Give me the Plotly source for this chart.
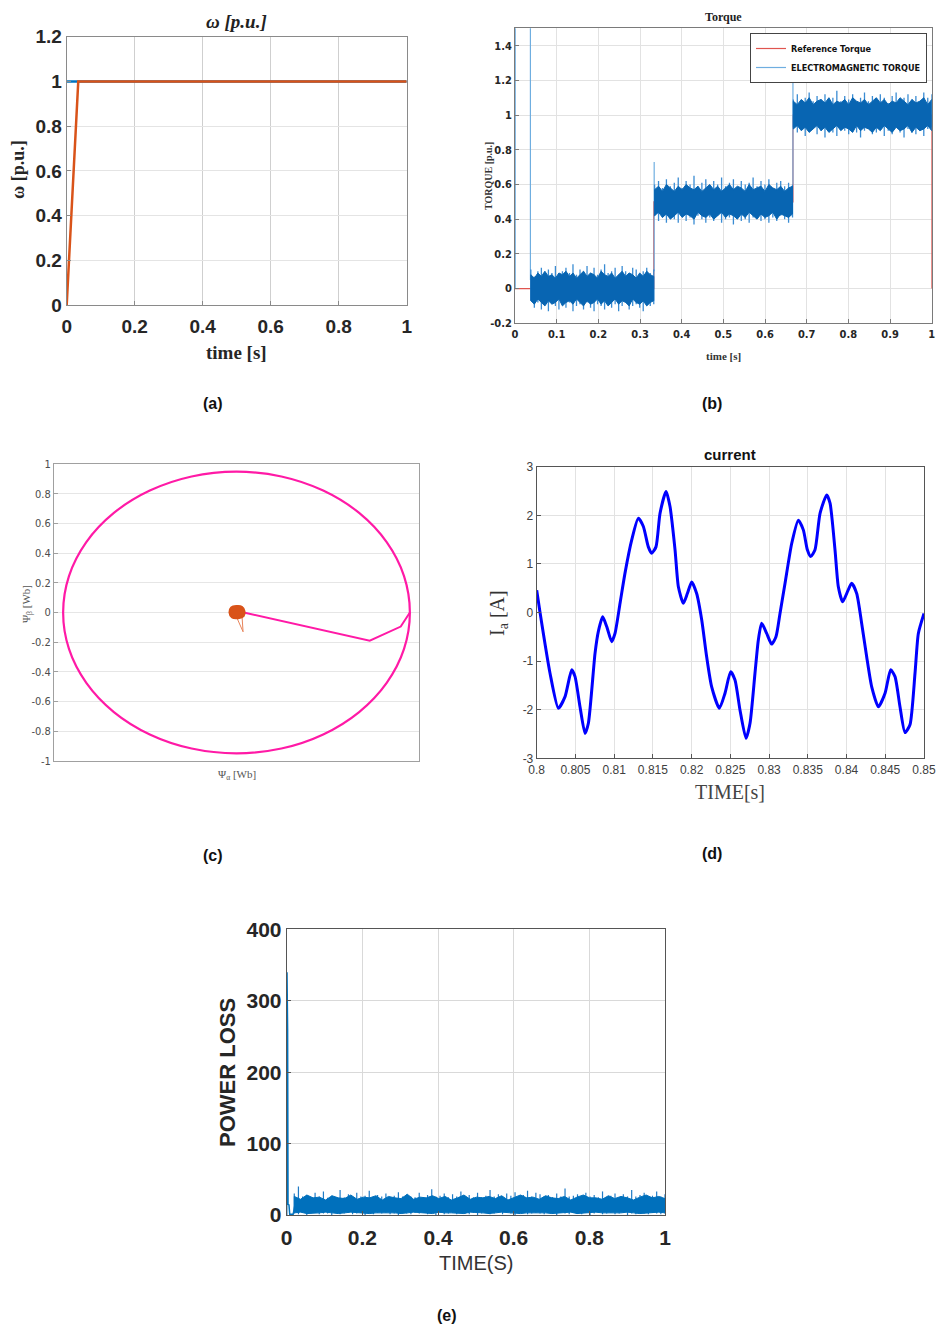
import plotly.graph_objects as go
import numpy as np

W, H = 937, 1328

# ---------------- data ----------------
# (a) speed
a_ref_t = [0.0, 1.0]
a_ref_w = [1.0, 1.0]
a_spd_t = [0.0, 0.034, 1.0]
a_spd_w = [0.0, 1.0, 1.0]
a_ticks = [0, 0.2, 0.4, 0.6, 0.8, 1]
a_yticks = [0, 0.2, 0.4, 0.6, 0.8, 1, 1.2]

# (b) torque
b_ref_t = [0.0, 0.333, 0.333, 0.667, 0.667, 1.0, 1.0]
b_ref_T = [0.0, 0.0, 0.5, 0.5, 1.0, 1.0, 0.0]
b_em_t = [0.0005, 0.0005, 0.037, 0.037, None, 0.334, 0.334, None, 0.667, 0.667]
b_em_T = [0.0, 3.0, 3.0, 0.05, None, 0.1, 0.73, None, 0.6, 1.27]
b_seg = [(0.038, 0.333), (0.335, 0.666), (0.668, 1.0)]
# spike envelopes
s1_hi = [0.11,0.07,0.10,0.12,0.08,0.11,0.09,0.13,0.08,0.10,0.12,0.09,0.14,0.08,0.11,0.10,0.13,0.09,
         0.12,0.08,0.11,0.14,0.09,0.10,0.12,0.08,0.13,0.10,0.09,0.12,0.11,0.08,0.10,0.12,0.09,0.11]
s1_lo = [-0.07,-0.11,-0.08,-0.12,-0.09,-0.13,-0.08,-0.10,-0.12,-0.09,-0.11,-0.08,-0.13,-0.10,-0.09,-0.12,-0.08,-0.11,
         -0.13,-0.09,-0.10,-0.12,-0.08,-0.11,-0.09,-0.13,-0.10,-0.08,-0.12,-0.10,-0.09,-0.11,-0.13,-0.08,-0.10,-0.09]
s2_hi = [0.60,0.62,0.58,0.63,0.59,0.61,0.64,0.58,0.62,0.60,0.65,0.59,0.61,0.63,0.58,0.62,0.60,0.64,
         0.59,0.61,0.63,0.58,0.62,0.60,0.61,0.64,0.59,0.62,0.60,0.63,0.58,0.61,0.62,0.59,0.61,0.60]
s2_lo = [0.42,0.39,0.41,0.38,0.43,0.40,0.38,0.42,0.39,0.41,0.37,0.42,0.40,0.38,0.41,0.39,0.42,0.38,
         0.40,0.41,0.37,0.42,0.39,0.40,0.38,0.41,0.42,0.39,0.40,0.38,0.41,0.39,0.42,0.40,0.38,0.41]
s3_hi = [1.09,1.12,1.07,1.10,1.13,1.08,1.11,1.09,1.12,1.07,1.10,1.14,1.08,1.11,1.09,1.12,1.07,1.10,
         1.13,1.08,1.11,1.09,1.12,1.10,1.07,1.11,1.13,1.08,1.10,1.12,1.09,1.11,1.08,1.13,1.10,1.12]
s3_lo = [0.93,0.90,0.92,0.88,0.91,0.93,0.89,0.91,0.87,0.92,0.90,0.88,0.93,0.91,0.89,0.92,0.90,0.87,
         0.91,0.93,0.89,0.90,0.92,0.88,0.91,0.89,0.93,0.90,0.87,0.92,0.90,0.89,0.91,0.88,0.92,0.93]
# dense core envelopes
c1_hi = [0.08,0.06,0.09,0.07,0.10,0.07,0.08,0.06,0.09,0.08,0.10,0.07,0.09,0.06,0.08,0.10,0.07,0.09,
         0.08,0.06,0.10,0.08,0.07,0.09,0.06,0.08,0.10,0.07,0.09,0.08,0.06,0.09,0.07,0.10,0.08,0.07]
c1_lo = [-0.07,-0.09,-0.06,-0.08,-0.10,-0.07,-0.09,-0.08,-0.06,-0.10,-0.08,-0.07,-0.09,-0.06,-0.08,-0.10,-0.07,-0.09,
         -0.08,-0.06,-0.09,-0.07,-0.10,-0.08,-0.06,-0.09,-0.07,-0.08,-0.10,-0.06,-0.08,-0.09,-0.07,-0.10,-0.08,-0.07]
c2_hi = [0.57,0.59,0.56,0.60,0.58,0.56,0.59,0.57,0.60,0.58,0.57,0.59,0.56,0.58,0.60,0.57,0.59,0.56,
         0.58,0.60,0.57,0.59,0.58,0.56,0.60,0.57,0.58,0.59,0.56,0.60,0.58,0.57,0.59,0.56,0.58,0.59]
c2_lo = [0.42,0.44,0.41,0.43,0.40,0.42,0.44,0.41,0.43,0.42,0.40,0.44,0.42,0.41,0.43,0.40,0.42,0.44,
         0.41,0.43,0.42,0.40,0.43,0.41,0.44,0.42,0.40,0.43,0.41,0.42,0.44,0.40,0.43,0.42,0.41,0.43]
c3_hi = [1.08,1.06,1.09,1.07,1.10,1.06,1.08,1.09,1.07,1.10,1.06,1.08,1.07,1.09,1.06,1.10,1.08,1.07,
         1.09,1.06,1.08,1.10,1.07,1.09,1.06,1.08,1.07,1.10,1.08,1.06,1.09,1.07,1.08,1.10,1.06,1.09]
c3_lo = [0.92,0.94,0.91,0.93,0.90,0.92,0.94,0.91,0.93,0.90,0.92,0.94,0.91,0.93,0.92,0.90,0.94,0.91,
         0.93,0.92,0.90,0.93,0.91,0.94,0.92,0.90,0.93,0.91,0.92,0.94,0.90,0.93,0.91,0.92,0.94,0.91]
b_xticks = [0, 0.1, 0.2, 0.3, 0.4, 0.5, 0.6, 0.7, 0.8, 0.9, 1]
b_yticks = [-0.2, 0, 0.2, 0.4, 0.6, 0.8, 1, 1.2, 1.4]
b_ylabels = ["-0.2", "0", "0.2", "0.4", "0.6", "0.8", "1", "1.2", "1.4"]

# (c) flux locus
c_circ_x = [0.95,0.918,0.823,0.672,0.475,0.246,0.0,-0.246,-0.475,-0.672,-0.823,-0.918,-0.95,
            -0.918,-0.823,-0.672,-0.475,-0.246,0.0,0.246,0.475,0.672,0.823,0.918,0.95]
c_circ_y = [0.0,0.246,0.475,0.672,0.823,0.918,0.95,0.918,0.823,0.672,0.475,0.246,0.0,
            -0.246,-0.475,-0.672,-0.823,-0.918,-0.95,-0.918,-0.823,-0.672,-0.475,-0.246,0.0]
c_start_x = [0.04, 0.73, 0.90, 0.95]
c_start_y = [0.0, -0.19, -0.095, 0.0]
c_blob_x = [-0.04,-0.03,0.0,0.03,0.045,0.04,0.01,-0.025,-0.04]
c_blob_y = [0.0,0.035,0.045,0.04,0.01,-0.025,-0.04,-0.035,0.0]
c_tail_x = [0.0, 0.036, 0.03]
c_tail_y = [-0.03, -0.13, -0.02]
c_yticks = [-1, -0.8, -0.6, -0.4, -0.2, 0, 0.2, 0.4, 0.6, 0.8, 1]
c_ylabels = ["-1", "-0.8", "-0.6", "-0.4", "-0.2", "0", "0.2", "0.4", "0.6", "0.8", "1"]

# (d) phase current
d_t = [0.8000,0.80043,0.80172,0.80280,0.80366,0.80452,0.80495,0.80559,0.80624,0.80667,0.80753,0.80796,
       0.80852,0.80904,0.80968,0.81011,0.81076,0.81140,0.81226,0.81312,0.81377,0.81441,0.81484,0.81540,
       0.81592,0.81670,0.81721,0.81786,0.81829,0.81893,0.81945,0.82001,0.82065,0.82130,0.82194,0.82259,
       0.82358,0.82431,0.82504,0.82560,0.82625,0.82702,0.82754,0.82818,0.82861,0.82904,0.82969,0.83033,
       0.83089,0.83141,0.83206,0.83292,0.83378,0.83442,0.83494,0.83537,0.83593,0.83658,0.83744,0.83787,
       0.83851,0.83894,0.83950,0.84002,0.84066,0.84131,0.84195,0.84260,0.84325,0.84411,0.84497,0.84570,
       0.84626,0.84690,0.84755,0.84819,0.84884,0.84927,0.85000]
d_i = [0.46,0.0,-1.25,-1.97,-1.73,-1.18,-1.32,-1.94,-2.49,-2.28,-0.84,-0.39,
       -0.09,-0.29,-0.60,-0.43,0.19,0.81,1.49,1.94,1.77,1.35,1.22,1.35,
       2.04,2.49,2.18,1.29,0.53,0.19,0.39,0.63,0.39,-0.15,-0.91,-1.53,
       -1.97,-1.66,-1.22,-1.39,-2.01,-2.59,-2.28,-1.25,-0.57,-0.22,-0.43,-0.65,
       -0.50,-0.02,0.60,1.42,1.90,1.70,1.29,1.15,1.29,2.04,2.42,2.25,
       1.29,0.53,0.22,0.39,0.60,0.39,-0.22,-0.91,-1.53,-1.94,-1.66,-1.18,
       -1.32,-1.94,-2.47,-2.31,-1.25,-0.43,-0.02]
d_xticks = [0.8,0.805,0.81,0.815,0.82,0.825,0.83,0.835,0.84,0.845,0.85]
d_xlabels = ["0.8","0.805","0.81","0.815","0.82","0.825","0.83","0.835","0.84","0.845","0.85"]
d_yticks = [-3,-2,-1,0,1,2,3]
d_ylabels = ["-3","-2","-1","0","1","2","3"]

# (e) power loss
e_start_t = [0.0, 0.0008, 0.0016, 0.0024, 0.0035, 0.006, 0.008, 0.017, 0.021]
e_start_p = [0.0, 340, 300, 260, 15, 14, 1, 1, 12]
e_hi = [30,40,26,28,24,31,26,33,24,27,25,35,25,29,24,31,26,27,34,25,28,26,30,25,27,32,26,29,26,25,
        31,25,28,36,26,27,30,25,29,26,33,26,28,25,31,25,27,35,26,29,26,30,27,32,25,28,34,26,31,29,
        26,28,25,30,26,37,26,27,29,25,31,26,28,25,33,25,27,30,25,29,26,35,26,28,31,25,27,33,26,29]
e_lo = [2,1,3,0,2,3,1,2,2,0,3,1,2,3,1,2,3,0,2,1,3,2,3,1,2,0,3,2,1,3,
        2,3,1,2,0,3,1,2,3,1,3,2,1,3,0,2,3,1,2,3,1,3,2,0,2,3,1,2,3,2,
        1,3,2,0,3,2,1,3,2,1,3,0,2,3,1,2,3,1,2,3,0,2,1,3,2,1,3,2,1,2]
e_core_hi = [26,22,28,24,25,21,27,24,23,28,22,25,24,27,21,26,24,23,29,22,25,24,27,23,26,21,24,28,22,25,
             24,26,23,27,21,24,28,24,25,22,27,24,23,26,21,25,28,24,24,22,27,23,26,24,21,25,28,24,26,23]
e_core_lo = [3,4,2,3,3,4,3,2,3,4,3,3,2,3,4,3,3,2,3,4,3,3,2,4,3,3,3,2,4,3,
             3,2,3,4,3,3,2,3,4,3,3,2,3,3,4,2,3,3,4,3,2,3,3,4,3,2,3,3,4,3]
e_range = (0.02, 1.0)
e_xticks = [0, 0.2, 0.4, 0.6, 0.8, 1]
e_yticks = [0, 100, 200, 300, 400]

# ---------------- helpers ----------------
def xd(l, r):
    return [l / W, r / W]

def yd(t, b):
    return [1 - b / H, 1 - t / H]

SANS = "Liberation Sans, Arial, sans-serif"
NARROW = "DejaVu Sans Condensed, Liberation Sans Narrow, Liberation Sans, Arial, sans-serif"
SERIF = "Liberation Serif, Times New Roman, serif"

fig = go.Figure()

def spikes(t, lo, hi):
    xs, ys = [], []
    for ti, l, h in zip(t, lo, hi):
        xs += [ti, ti, None]
        ys += [l, h, None]
    return xs, ys

def band(t, lo, hi):
    return list(t) + list(t)[::-1] + [t[0]], list(hi) + list(lo)[::-1] + [hi[0]]

# (a)
fig.add_trace(go.Scatter(x=a_ref_t, y=a_ref_w, mode="lines", line=dict(color="#0072BD", width=2.5),
                         xaxis="x", yaxis="y", showlegend=False))
fig.add_trace(go.Scatter(x=a_spd_t, y=a_spd_w, mode="lines", line=dict(color="#D95319", width=2.5),
                         xaxis="x", yaxis="y", showlegend=False))

# (b)
fig.add_trace(go.Scatter(x=b_ref_t, y=b_ref_T, mode="lines", line=dict(color="#E0554F", width=1.2),
                         xaxis="x2", yaxis="y2", name="Reference Torque"))
fig.add_trace(go.Scatter(x=b_em_t, y=b_em_T, mode="lines", line=dict(color="#6FAEE0", width=1.2),
                         xaxis="x2", yaxis="y2", name="ELECTROMAGNETIC TORQUE"))
for (t0, t1), hi, lo, chi, clo in zip(b_seg, [s1_hi, s2_hi, s3_hi], [s1_lo, s2_lo, s3_lo],
                                      [c1_hi, c2_hi, c3_hi], [c1_lo, c2_lo, c3_lo]):
    ts = np.linspace(t0, t1, len(hi))
    sx, sy = spikes(ts, lo, hi)
    fig.add_trace(go.Scatter(x=sx, y=sy, mode="lines", line=dict(color="#3A8CD3", width=1.3),
                             xaxis="x2", yaxis="y2", showlegend=False))
    tc = np.linspace(t0, t1, len(chi))
    bx, by = band(tc, clo, chi)
    fig.add_trace(go.Scatter(x=bx, y=by, mode="lines", fill="toself", fillcolor="#0865B2",
                             line=dict(color="#0865B2", width=1), xaxis="x2", yaxis="y2", showlegend=False))

# (c)
fig.add_trace(go.Scatter(x=c_start_x, y=c_start_y, mode="lines", line=dict(color="#FF1AA6", width=2),
                         xaxis="x3", yaxis="y3", showlegend=False))
fig.add_trace(go.Scatter(x=c_circ_x, y=c_circ_y, mode="lines", line=dict(color="#FF1AA6", width=2.2, shape="spline"),
                         xaxis="x3", yaxis="y3", showlegend=False))
fig.add_trace(go.Scatter(x=c_tail_x, y=c_tail_y, mode="lines", line=dict(color="#E8845A", width=1),
                         xaxis="x3", yaxis="y3", showlegend=False))
fig.add_trace(go.Scatter(x=c_blob_x, y=c_blob_y, mode="lines", fill="toself", fillcolor="#D95319",
                         line=dict(color="#D95319", width=1.5, shape="spline"),
                         xaxis="x3", yaxis="y3", showlegend=False))

# (d)
fig.add_trace(go.Scatter(x=d_t, y=d_i, mode="lines", line=dict(color="#0000FF", width=3, shape="spline", smoothing=0.6),
                         xaxis="x4", yaxis="y4", showlegend=False))

# (e)
fig.add_trace(go.Scatter(x=e_start_t, y=e_start_p, mode="lines", line=dict(color="#0072BD", width=1.5),
                         xaxis="x5", yaxis="y5", showlegend=False))
ets = np.linspace(e_range[0], e_range[1], len(e_hi))
sx, sy = spikes(ets, e_lo, e_hi)
fig.add_trace(go.Scatter(x=sx, y=sy, mode="lines", line=dict(color="#1F7BC6", width=1.2),
                         xaxis="x5", yaxis="y5", showlegend=False))
etc = np.linspace(e_range[0], e_range[1], len(e_core_hi))
bx, by = band(etc, e_core_lo, e_core_hi)
fig.add_trace(go.Scatter(x=bx, y=by, mode="lines", fill="toself", fillcolor="#0070BC",
                         line=dict(color="#0070BC", width=1), xaxis="x5", yaxis="y5", showlegend=False))

# ---------------- axes ----------------
def ax(domain, anchor, rng, tickvals, font, grid=True, gridcolor="#dcdcdc", linecolor="#8a8a8a",
       showlabels=True, ticktext=None, standoff=None):
    d = dict(domain=domain, anchor=anchor, range=rng, tickvals=tickvals, tickfont=font,
             showgrid=grid, gridcolor=gridcolor, gridwidth=1, zeroline=False, showline=True,
             linecolor=linecolor, linewidth=1, mirror=True, ticks="inside", ticklen=4,
             tickcolor=linecolor, showticklabels=showlabels, fixedrange=True, automargin=False)
    if ticktext is not None:
        d["ticktext"] = ticktext
    if standoff is not None:
        d["ticklabelstandoff"] = standoff
    return d

fa = dict(family=SANS, size=19, color="#262626", weight="bold")
fb = dict(family=NARROW, size=11, color="#262626", weight="bold")
fc = dict(family=NARROW, size=11, color="#4d4d4d")
fd = dict(family=SANS, size=12, color="#404040")
fe = dict(family=SANS, size=21, color="#262626", weight="bold")

layout = dict(
    width=W, height=H, margin=dict(l=0, r=0, t=0, b=0, autoexpand=False),
    paper_bgcolor="white", plot_bgcolor="white",
    xaxis=ax(xd(66.7, 406.7), "y", [0, 1], a_ticks, fa, gridcolor="#cfcfcf", standoff=4),
    yaxis=ax(yd(36.7, 305), "x", [0, 1.2], a_yticks, fa, gridcolor="#e4e4e4"),
    xaxis2=ax(xd(515, 931.7), "y2", [0, 1], b_xticks, fb, gridcolor="#e2e2e2", linecolor="#7a7a7a"),
    yaxis2=ax(yd(28.3, 323.3), "x2", [-0.2, 1.5], b_yticks, fb, gridcolor="#e2e2e2", linecolor="#7a7a7a",
              ticktext=b_ylabels),
    xaxis3=ax(xd(54, 419), "y3", [-1, 1], [], fc, grid=False, linecolor="#a0a0a0", showlabels=False),
    yaxis3=ax(yd(464.3, 760.7), "x3", [-1, 1], c_yticks, fc, gridcolor="#e6e6e6", linecolor="#a0a0a0",
              ticktext=c_ylabels),
    xaxis4=ax(xd(536.7, 924), "y4", [0.8, 0.85], d_xticks, fd, gridcolor="#e2e2e2", linecolor="#555555",
              ticktext=d_xlabels),
    yaxis4=ax(yd(466.7, 758.3), "x4", [-3, 3], d_yticks, fd, gridcolor="#e2e2e2", linecolor="#555555",
              ticktext=d_ylabels),
    xaxis5=ax(xd(286.7, 665), "y5", [0, 1], e_xticks, fe, gridcolor="#d9d9d9", linecolor="#555555", standoff=4),
    yaxis5=ax(yd(929.3, 1215), "x5", [0, 400], e_yticks, fe, gridcolor="#d9d9d9", linecolor="#555555"),
    legend=dict(x=927 / W, y=1 - 33 / H, xanchor="right", yanchor="top", bgcolor="white",
                bordercolor="#444444", borderwidth=1, font=dict(family=NARROW, size=9, color="#111111", weight="bold"),
                itemwidth=30, tracegroupgap=0),
)
fig.update_layout(**layout)

def ann(text, xp, yp, size, family=SANS, color="#222222", weight="normal", style="normal", angle=0):
    fig.add_annotation(text=text, x=xp / W, y=1 - yp / H, xref="paper", yref="paper",
                       xanchor="center", yanchor="middle", showarrow=False, textangle=angle,
                       font=dict(family=family, size=size, color=color, weight=weight, style=style))

# (a)
ann("ω [p.u.]", 236, 22, 19, SERIF, "#222222", "bold", "italic")
ann("ω [p.u.]", 18, 170, 18, SERIF, "#262626", "bold", angle=-90)
ann("time [s]", 236, 353, 19, SERIF, "#262626", "bold")
ann("(a)", 213, 403, 16, SANS, "#111111", "bold")
# (b)
ann("Torque", 723, 17, 12, SERIF, "#222222", "bold")
ann("TORQUE [p.u.]", 489, 176, 10, SERIF, "#333333", "bold", angle=-90)
ann("time [s]", 723, 356, 11, SERIF, "#333333", "bold")
ann("(b)", 712, 403, 16, SANS, "#111111", "bold")
# (c)
ann("Ψ<sub>β</sub> [Wb]", 27, 604, 11, SERIF, "#555555", angle=-90)
ann("Ψ<sub>α</sub> [Wb]", 237, 775, 11, SERIF, "#555555")
ann("(c)", 213, 855, 16, SANS, "#111111", "bold")
# (d)
ann("current", 730, 455, 15, SANS, "#111111", "bold")
ann("I<sub>a</sub> [A]", 498, 613, 20, SERIF, "#333333", angle=-90)
ann("TIME[s]", 730, 792, 20, SERIF, "#444444")
ann("(d)", 712, 853, 16, SANS, "#111111", "bold")
# (e)
ann("POWER LOSS", 227, 1073, 22, SANS, "#262626", "bold", angle=-90)
ann("TIME(S)", 476, 1263, 20, SANS, "#333333")
ann("(e)", 447, 1315, 16, SANS, "#111111", "bold")

fig.write_html("out.html", config={"displayModeBar": False},
               post_script="document.body.style.margin='0px';")
